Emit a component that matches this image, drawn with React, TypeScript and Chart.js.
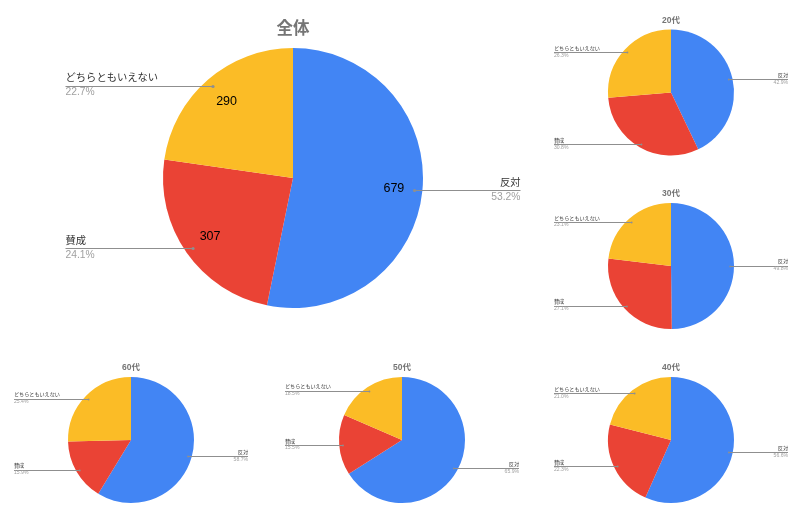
import React, { useEffect, useRef } from 'react';
import { Chart, registerables } from 'chart.js';

Chart.register(...registerables);

const categories = ['反対', '賛成', 'どちらともいえない'];
const sliceColors = ['#4285F4', '#EA4335', '#FBBC26'];
const totalCounts = [679, 307, 290];
const age20 = [42.9, 30.8, 26.3];
const age30 = [49.8, 27.1, 23.1];
const age40 = [56.6, 22.3, 21.0];
const age50 = [65.9, 15.5, 18.5];
const age60 = [58.7, 15.9, 25.4];

const W = 800;
const H = 531;
const FONT = '"Liberation Sans", Arial, "Noto Sans CJK JP", sans-serif';

type Spec = {
  title: string;
  values: number[];
  pctLabels: string[];
  showValues: boolean;
  cx: number;
  cy: number;
  r: number;
  labelDx: number;
  labelSize: number;
  valueSize: number;
  titleSize: number;
  titleY: number;
  textDy: number;
  pctDy: number;
  dotR: number;
};

const totalSum = totalCounts.reduce((a, b) => a + b, 0);
const totalPct = totalCounts.map((v) => ((v / totalSum) * 100).toFixed(1) + '%');
const fmt = (arr: number[]) => arr.map((v) => v.toFixed(1) + '%');

const bigSpec = {
  showValues: true,
  labelDx: 227.5,
  labelSize: 10.3,
  valueSize: 12.5,
  titleSize: 16.5,
  textDy: -7,
  pctDy: 6.5,
  dotR: 1.6,
  r: 130,
};
const smallSpec = {
  showValues: false,
  labelDx: 117,
  labelSize: 5.1,
  valueSize: 6,
  titleSize: 8.5,
  textDy: -3.6,
  pctDy: 3.3,
  dotR: 0.9,
  r: 63,
};

const specs: Spec[] = [
  { ...bigSpec, title: '全体', values: totalCounts, pctLabels: totalPct, cx: 293, cy: 178, titleY: 29 },
  { ...smallSpec, title: '20代', values: age20, pctLabels: fmt(age20), cx: 671, cy: 92.5, titleY: 20.5 },
  { ...smallSpec, title: '30代', values: age30, pctLabels: fmt(age30), cx: 671, cy: 266, titleY: 194 },
  { ...smallSpec, title: '40代', values: age40, pctLabels: fmt(age40), cx: 671, cy: 440, titleY: 368 },
  { ...smallSpec, title: '50代', values: age50, pctLabels: fmt(age50), cx: 402, cy: 440, titleY: 368 },
  { ...smallSpec, title: '60代', values: age60, pctLabels: fmt(age60), cx: 131, cy: 440, titleY: 368 },
];

function PieChart({ spec }: { spec: Spec }) {
  const ref = useRef<HTMLCanvasElement>(null);
  useEffect(() => {
    if (!ref.current) return;
    const callouts = {
      id: 'callouts',
      afterDatasetsDraw(chart: any) {
        const ctx = chart.ctx as CanvasRenderingContext2D;
        const meta = chart.getDatasetMeta(0);
        ctx.save();
        ctx.font = `bold ${spec.titleSize}px ${FONT}`;
        ctx.fillStyle = '#757575';
        ctx.textAlign = 'center';
        ctx.textBaseline = 'middle';
        const first = meta.data[0];
        ctx.fillText(spec.title, first ? first.x : spec.cx, spec.titleY);
        meta.data.forEach((arc: any, i: number) => {
          const { x, y, startAngle, endAngle, outerRadius } = arc.getProps(
            ['x', 'y', 'startAngle', 'endAngle', 'outerRadius'],
            true
          );
          const mid = (startAngle + endAngle) / 2;
          const px = x + Math.cos(mid) * outerRadius * 0.94;
          const py = y + Math.sin(mid) * outerRadius * 0.94;
          const right = Math.cos(mid) >= 0;
          const lx = right ? x + spec.labelDx : x - spec.labelDx;
          ctx.strokeStyle = '#8f8f8f';
          ctx.lineWidth = 1;
          ctx.beginPath();
          ctx.moveTo(px, Math.round(py) + 0.5);
          ctx.lineTo(lx, Math.round(py) + 0.5);
          ctx.stroke();
          ctx.fillStyle = '#8f8f8f';
          ctx.beginPath();
          ctx.arc(px, Math.round(py) + 0.5, spec.dotR, 0, Math.PI * 2);
          ctx.fill();
          ctx.textAlign = right ? 'right' : 'left';
          ctx.textBaseline = 'middle';
          ctx.font = `${spec.labelSize}px ${FONT}`;
          ctx.fillStyle = '#333333';
          ctx.fillText(categories[i], lx, py + spec.textDy);
          ctx.fillStyle = '#a0a0a0';
          ctx.fillText(spec.pctLabels[i], lx, py + spec.pctDy);
          if (spec.showValues) {
            const vx = x + Math.cos(mid) * outerRadius * 0.78;
            const vy = y + Math.sin(mid) * outerRadius * 0.78;
            ctx.textAlign = 'center';
            ctx.font = `${spec.valueSize}px ${FONT}`;
            ctx.fillStyle = '#000000';
            ctx.fillText(String(spec.values[i]), vx, vy);
          }
        });
        ctx.restore();
      },
    };
    const chart = new Chart(ref.current, {
      type: 'pie',
      data: {
        labels: categories,
        datasets: [
          {
            data: spec.values,
            backgroundColor: sliceColors,
            borderWidth: 0,
            hoverOffset: 0,
            offset: 0,
          },
        ],
      },
      options: {
        responsive: false,
        animation: false,
        devicePixelRatio: 1,
        events: [],
        layout: {
          padding: {
            left: spec.cx - spec.r,
            top: spec.cy - spec.r,
            right: W - spec.cx - spec.r,
            bottom: H - spec.cy - spec.r,
          },
        },
        plugins: {
          legend: { display: false },
          tooltip: { enabled: false },
          title: { display: false },
        },
      },
      plugins: [callouts],
    });
    return () => chart.destroy();
  }, [spec]);
  return (
    <canvas
      ref={ref}
      width={W}
      height={H}
      style={{ position: 'absolute', left: 0, top: 0, width: W, height: H }}
    />
  );
}

export default function App() {
  return (
    <div style={{ position: 'absolute', left: 0, top: 0, width: W, height: H, background: '#ffffff' }}>
      {specs.map((s) => (
        <PieChart key={s.title} spec={s} />
      ))}
    </div>
  );
}
